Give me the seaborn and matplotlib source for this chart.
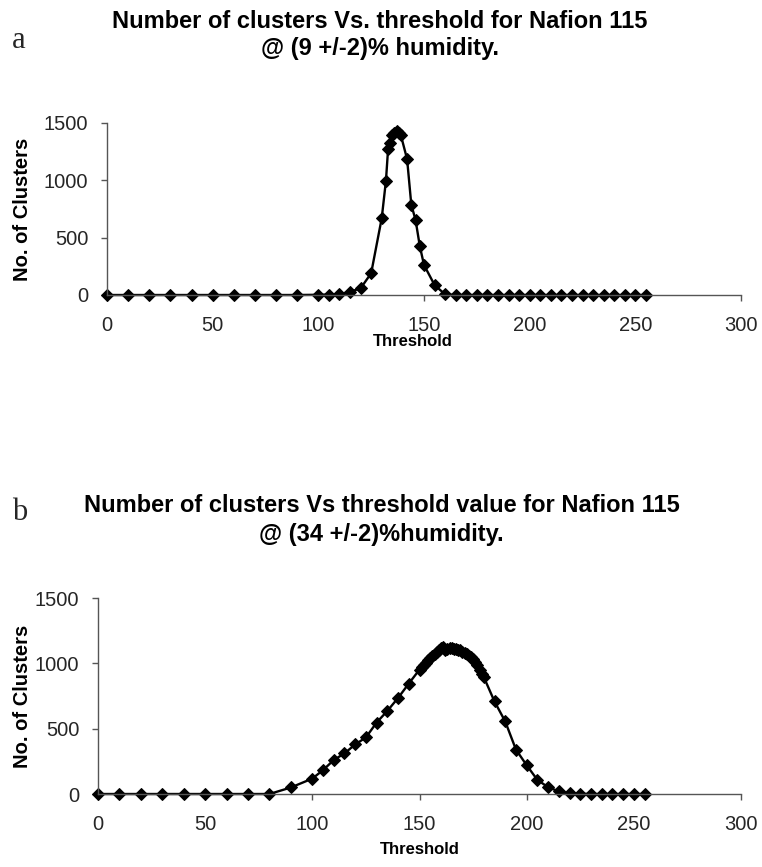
import matplotlib
matplotlib.use("Agg")
import matplotlib.pyplot as plt
import seaborn as sns
import pandas as pd

# ---- data: panel a (9 % humidity) ----
thr_a = [0, 10, 20, 30, 40, 50, 60, 70, 80, 90, 100, 105, 110, 115, 120, 125, 130,
         132, 133, 134, 135, 136, 137, 138, 139, 142, 144, 146, 148, 150, 155,
         160, 165, 170, 175, 180, 185, 190, 195, 200, 205, 210, 215, 220, 225,
         230, 235, 240, 245, 250, 255]
clusters_a = [0, 0, 0, 0, 0, 0, 0, 0, 0, 0, 2, 4, 6, 28, 58, 190, 670,
              998, 1272, 1325, 1397, 1410, 1426, 1417, 1397, 1185, 786, 655, 428, 262, 87,
              5, 0, 0, 0, 0, 0, 0, 0, 0, 0, 0, 0, 0, 0,
              0, 0, 0, 0, 0, 0]

# ---- data: panel b (34 % humidity) ----
thr_b = [0, 10, 20, 30, 40, 50, 60, 70, 80, 90, 100, 105, 110, 115, 120, 125, 130,
         135, 140, 145, 150, 151, 152, 153, 154, 155, 156, 157, 158, 159, 160, 161,
         162, 163, 164, 165, 166, 167, 168, 169, 170, 171, 172, 173, 174, 175, 176,
         177, 178, 179, 180, 185, 190, 195, 200, 205, 210, 215, 220, 225, 230, 235,
         240, 245, 250, 255]
clusters_b = [0, 0, 0, 0, 0, 0, 0, 0, 0, 50, 118, 183, 260, 311, 379, 433, 547,
              636, 735, 845, 952, 970, 990, 1005, 1025, 1043, 1058, 1072, 1086, 1100, 1118, 1124,
              1105, 1112, 1120, 1115, 1112, 1108, 1104, 1099, 1090, 1080, 1068, 1056, 1045, 1030, 1010,
              990, 950, 921, 895, 708, 555, 340, 220, 108, 52, 20, 5, 2, 0, 0,
              0, 0, 0, 0]

titles_a = ["Number of clusters Vs. threshold for Nafion 115", "@ (9 +/-2)% humidity."]
titles_b = ["Number of clusters Vs threshold value for Nafion 115", "@ (34 +/-2)%humidity."]
x_ticks = [0, 50, 100, 150, 200, 250, 300]
y_ticks = [0, 500, 1000, 1500]
x_label = "Threshold"
y_label = "No. of Clusters"

sns.set_theme(style="white")
plt.rcParams['font.family'] = ['Liberation Sans', 'DejaVu Sans']

W, H = 762, 867
fig = plt.figure(figsize=(W / 100, H / 100), dpi=100)


def px_axes(left, right, top, bottom):
    return fig.add_axes([left / W, 1 - bottom / H, (right - left) / W, (bottom - top) / H])


def style(ax):
    ax.set_xlim(0, 300)
    ax.set_ylim(0, 1500)
    ax.set_xticks(x_ticks)
    ax.set_yticks(y_ticks)
    for s in ["top", "right"]:
        ax.spines[s].set_visible(False)
    for s in ["left", "bottom"]:
        ax.spines[s].set_color("#555555")
        ax.spines[s].set_linewidth(1.0)
    ax.tick_params(axis="x", direction="out", length=4, width=1, color="#555555",
                   pad=11, labelsize=14.5, bottom=True)
    ax.tick_params(axis="y", direction="out", length=4.5, width=1, color="#555555",
                   pad=9, labelsize=14.5, left=True)
    ax.set_xlabel("")
    ax.set_ylabel("")
    ax.set_facecolor("white")


df_a = pd.DataFrame({"Threshold": thr_a, "Clusters": clusters_a})
df_b = pd.DataFrame({"Threshold": thr_b, "Clusters": clusters_b})

ax1 = px_axes(107, 741, 123, 295)
sns.lineplot(data=df_a, x="Threshold", y="Clusters", ax=ax1, color="black",
             linewidth=1.7, marker="D", markersize=6, markeredgecolor="black", clip_on=False)
style(ax1)

ax2 = px_axes(98, 741, 598, 794)
sns.lineplot(data=df_b, x="Threshold", y="Clusters", ax=ax2, color="black",
             linewidth=1.7, marker="D", markersize=6, markeredgecolor="black", clip_on=False)
style(ax2)

# titles
tkw = dict(ha="center", va="center", fontsize=17, fontweight="bold", color="black")
fig.text(380 / W, 1 - 22 / H, titles_a[0], **tkw)
fig.text(380 / W, 1 - 48 / H, titles_a[1], **tkw)
fig.text(382 / W, 1 - 505 / H, titles_b[0], **tkw)
fig.text(381 / W, 1 - 535 / H, titles_b[1], **tkw)

# panel letters
fig.text(12 / W, 1 - 40 / H, "a", ha="left", va="center", fontsize=22, family="Liberation Serif")
fig.text(12 / W, 1 - 513 / H, "b", ha="left", va="center", fontsize=22, family="Liberation Serif")

# axis labels
lkw = dict(ha="center", va="center", fontweight="bold", color="black")
fig.text(23 / W, 1 - 209 / H, y_label, rotation=90, fontsize=14.5, **lkw)
fig.text(23 / W, 1 - 696 / H, y_label, rotation=90, fontsize=14.5, **lkw)
fig.text(413 / W, 1 - 342 / H, x_label, fontsize=12, **lkw)
fig.text(420 / W, 1 - 850 / H, x_label, fontsize=12, **lkw)

fig.savefig("out.png", dpi=100, facecolor="white")
